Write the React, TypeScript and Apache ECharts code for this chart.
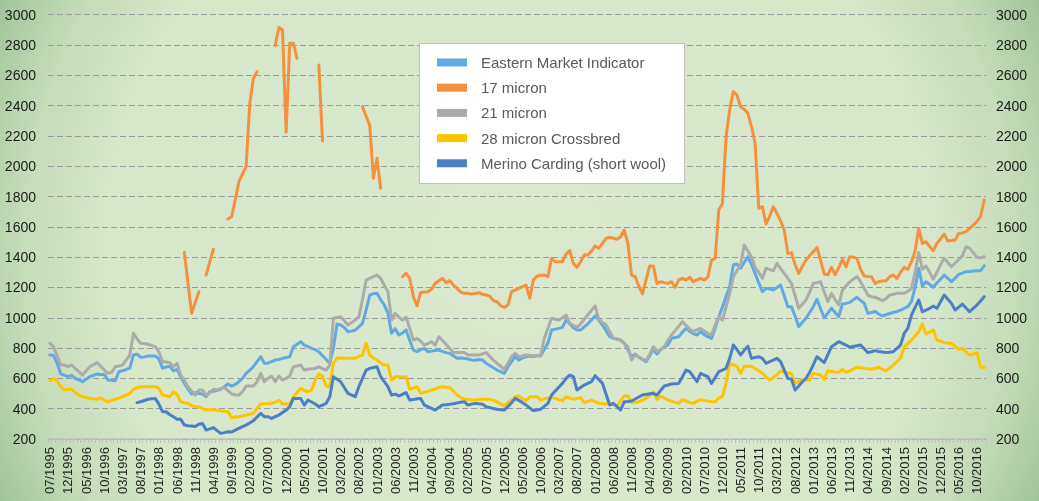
import React, { useEffect, useRef } from "react";
import * as echarts from "echarts";

const _ = null;

// Months from 07/1995 to 12/2016 (258 monthly points)
const START_YEAR = 1995;
const START_MONTH = 7;
const MONTH_COUNT = 258;
const months: string[] = [];
for (let k = 0; k < MONTH_COUNT; k++) {
  const m0 = START_MONTH - 1 + k;
  const y = START_YEAR + Math.floor(m0 / 12);
  const m = (m0 % 12) + 1;
  months.push((m < 10 ? "0" + m : "" + m) + "/" + y);
}

const yTicks = { min: 200, max: 3000, interval: 200 };

const seriesNames = [
  "Eastern Market Indicator",
  "17 micron",
  "21 micron",
  "28 micron Crossbred",
  "Merino Carding (short wool)",
];

const easternMarketIndicator = [
  754, 752, 700, 630, 622, 611, 620, 600, 590, 578, 595, 611,
  620, 629, 625, 625, 590, 588, 585, 644, 650, 660, 668, 754,
  760, 739, 742, 748, 748, 748, 728, 668, 675, 680, 650, 660,
  610, 568, 530, 497, 505, 500, 497, 479, 512, 515, 520, 528,
  545, 563, 548, 560, 578, 600, 633, 655, 677, 710, 743, 700,
  700, 710, 721, 725, 732, 738, 743, 809, 825, 842, 820, 809,
  798, 790, 776, 750, 725, 700, 800, 959, 952, 935, 908, 912,
  919, 940, 963, 1050, 1150, 1160, 1162, 1120, 1084, 1030, 898, 928,
  886, 900, 919, 850, 787, 776, 790, 798, 776, 780, 785, 787,
  778, 770, 765, 750, 733, 735, 733, 728, 722, 720, 725, 722,
  700, 685, 670, 655, 645, 633, 677, 710, 743, 721, 735, 742,
  748, 745, 750, 748, 790, 832, 919, 925, 930, 937, 985, 960,
  935, 919, 919, 940, 960, 985, 1012, 985, 952, 915, 875, 865,
  858, 853, 832, 790, 743, 760, 740, 725, 710, 750, 792, 760,
  790, 805, 820, 864, 870, 875, 905, 931, 910, 895, 886, 908,
  890, 875, 864, 930, 1007, 1070, 1140, 1205, 1348, 1355, 1327, 1365,
  1403, 1350, 1293, 1230, 1172, 1194, 1190, 1183, 1200, 1216, 1145, 1073,
  1073, 1010, 941, 970, 997, 1035, 1073, 1122, 1060, 1000, 1030, 1063,
  1035, 1007, 1091, 1095, 1100, 1118, 1135, 1115, 1096, 1030, 1035, 1041,
  1025, 1012, 1020, 1028, 1035, 1041, 1050, 1062, 1073, 1106, 1200, 1327,
  1210, 1238, 1220, 1201, 1230, 1255, 1282, 1260, 1238, 1262, 1287, 1295,
  1304, 1306, 1308, 1310, 1311, 1342,
];

const micron17 = [
  _, _, _, _, _, _, _, _, _, _, _, _,
  _, _, _, _, _, _, _, _, _, _, _, _,
  _, _, _, _, _, _, _, _, _, _, _, _,
  _, 1432, 1230, 1030, 1100, 1172, _, 1282, 1370, 1452, _, _,
  _, 1652, 1667, 1777, 1898, 1950, 1997, 2416, 2581, 2624, _, _,
  _, _, 2796, 2915, 2900, 2224, 2811, 2811, 2712, _, _, _,
  _, _, 2668, 2167, _, _, _, _, _, _, _, _,
  _, _, 2393, 2330, 2270, 1921, 2053, 1855, _, _, _, _,
  _, 1271, 1293, 1260, 1139, 1079, 1166, 1170, 1172, 1188, 1227, 1245,
  1260, 1232, 1245, 1216, 1194, 1170, 1161, 1161, 1157, 1160, 1166, 1155,
  1150, 1143, 1113, 1106, 1080, 1068, 1084, 1172, 1183, 1194, 1205, 1216,
  1128, 1249, 1276, 1280, 1282, 1271, 1392, 1370, 1370, 1370, 1420, 1443,
  1359, 1333, 1370, 1414, 1414, 1440, 1474, 1458, 1490, 1524, 1531, 1525,
  1518, 1535, 1579, 1491, 1282, 1271, 1210, 1157, 1250, 1342, 1342, 1227,
  1238, 1232, 1227, 1238, 1201, 1250, 1260, 1249, 1267, 1238, 1250, 1260,
  1249, 1267, 1381, 1392, 1711, 1755, 2195, 2371, 2492, 2470, 2393, 2376,
  2349, 2261, 2151, 1722, 1733, 1619, 1671, 1733, 1689, 1640, 1579, 1425,
  1430, 1350, 1293, 1340, 1381, 1410, 1436, 1464, 1380, 1289, 1284, 1333,
  1284, 1330, 1386, 1337, 1403, 1400, 1392, 1320, 1276, 1273, 1271, 1227,
  1238, 1242, 1245, 1271, 1282, 1260, 1300, 1333, 1320, 1370, 1440, 1590,
  1491, 1502, 1470, 1443, 1491, 1520, 1552, 1507, 1510, 1513, 1557, 1560,
  1568, 1590, 1612, 1634, 1667, 1777,
];

const micron21 = [
  832, 810, 750, 688, 688, 677, 688, 665, 644, 622, 650, 677,
  690, 704, 680, 655, 633, 640, 677, 682, 688, 720, 754, 897,
  860, 832, 830, 825, 818, 810, 776, 710, 708, 704, 677, 699,
  622, 585, 545, 515, 490, 523, 523, 486, 505, 528, 523, 532,
  541, 520, 497, 492, 490, 512, 550, 550, 550, 578, 633, 578,
  600, 616, 578, 616, 590, 600, 616, 677, 682, 688, 655, 660,
  664, 666, 677, 665, 655, 688, 997, 1002, 1007, 980, 952, 968,
  985, 1007, 1120, 1249, 1260, 1271, 1282, 1260, 1215, 1172, 985, 1030,
  1005, 985, 1003, 930, 853, 864, 845, 820, 830, 842, 820, 875,
  850, 825, 798, 770, 770, 770, 770, 754, 754, 754, 754, 762,
  770, 745, 721, 700, 680, 660, 700, 743, 765, 743, 748, 754,
  752, 750, 750, 750, 865, 930, 997, 990, 985, 1000, 1018, 963,
  950, 937, 960, 990, 1020, 1050, 1078, 990, 970, 952, 910, 865,
  860, 853, 830, 810, 721, 754, 740, 728, 717, 760, 809, 776,
  790, 809, 850, 886, 915, 945, 974, 950, 925, 908, 920, 930,
  912, 898, 886, 950, 1007, 985, 1070, 1161, 1271, 1310, 1348, 1480,
  1440, 1403, 1330, 1300, 1260, 1327, 1318, 1310, 1359, 1325, 1293, 1260,
  1227, 1145, 1063, 1090, 1118, 1170, 1227, 1232, 1238, 1170, 1106, 1161,
  1120, 1084, 1183, 1210, 1235, 1255, 1271, 1238, 1195, 1150, 1139, 1135,
  1125, 1113, 1125, 1150, 1155, 1161, 1161, 1161, 1175, 1194, 1300, 1430,
  1320, 1342, 1300, 1254, 1300, 1350, 1393, 1365, 1337, 1360, 1385, 1408,
  1469, 1460, 1430, 1399, 1395, 1403,
];

const micron28Crossbred = [
  583, 600, 583, 545, 523, 528, 528, 505, 490, 480, 472, 468,
  465, 462, 472, 455, 446, 455, 462, 470, 479, 490, 501, 528,
  540, 545, 545, 545, 545, 545, 534, 490, 485, 479, 512, 494,
  446, 440, 435, 420, 413, 413, 400, 391, 393, 395, 390, 387,
  383, 380, 341, 345, 347, 352, 358, 363, 369, 400, 431, 433,
  435, 438, 442, 456, 431, 431, 431, 479, 505, 534, 520, 512,
  523, 589, 629, 615, 550, 545, 700, 733, 735, 733, 733, 733,
  733, 745, 754, 832, 754, 735, 721, 700, 688, 688, 589, 611,
  611, 611, 611, 528, 535, 545, 501, 508, 515, 523, 530, 540,
  545, 542, 540, 515, 490, 475, 462, 460, 458, 457, 460, 462,
  462, 462, 455, 446, 430, 418, 440, 457, 479, 484, 468, 453,
  479, 479, 479, 457, 465, 470, 474, 468, 460, 453, 479, 470,
  462, 468, 473, 440, 448, 457, 446, 435, 433, 431, 435, 428,
  418, 450, 484, 484, 440, 443, 446, 457, 468, 490, 512, 462,
  484, 470, 457, 450, 442, 435, 460, 450, 440, 435, 448, 460,
  455, 450, 447, 445, 470, 480, 567, 699, 690, 680, 633, 680,
  680, 680, 665, 650, 633, 610, 590, 605, 625, 650, 640, 635,
  630, 567, 580, 590, 590, 590, 633, 628, 622, 594, 651, 645,
  642, 640, 660, 640, 650, 662, 673, 670, 666, 663, 660, 667,
  673, 660, 650, 668, 688, 710, 733, 809, 830, 853, 880, 908,
  959, 893, 905, 919, 853, 845, 836, 833, 831, 810, 792, 798,
  775, 754, 762, 770, 677, 670,
];

const merinoCarding = [
  _, _, _, _, _, _, _, _, _, _, _, _,
  _, _, _, _, _, _, _, _, _, _, _, _,
  440, 446, 454, 462, 465, 468, 430, 380, 380, 360, 347, 330,
  330, 292, 288, 286, 282, 297, 302, 259, 267, 275, 255, 237,
  242, 248, 246, 258, 270, 281, 292, 306, 321, 345, 369, 347,
  347, 336, 347, 358, 375, 391, 413, 468, 468, 468, 424, 457,
  444, 431, 413, 424, 435, 479, 611, 595, 578, 540, 501, 490,
  479, 545, 600, 655, 666, 672, 677, 611, 578, 545, 490, 496,
  484, 495, 506, 457, 460, 465, 468, 424, 413, 402, 391, 408,
  424, 426, 429, 433, 438, 442, 446, 424, 430, 435, 432, 430,
  413, 407, 401, 396, 393, 391, 413, 440, 468, 455, 440, 424,
  405, 387, 392, 396, 415, 435, 490, 516, 541, 567, 600, 622,
  611, 523, 540, 556, 567, 578, 618, 592, 567, 495, 424, 435,
  413, 391, 446, 448, 451, 464, 477, 490, 494, 498, 501, 490,
  520, 550, 556, 563, 565, 567, 611, 655, 644, 611, 578, 633,
  622, 611, 567, 605, 644, 655, 666, 732, 820, 791, 754, 785,
  813, 732, 738, 743, 732, 699, 710, 721, 732, 710, 655, 600,
  594, 523, 550, 578, 600, 640, 690, 743, 724, 704, 757, 809,
  825, 842, 831, 820, 805, 810, 815, 820, 795, 770, 776, 783,
  778, 774, 770, 773, 776, 798, 820, 897, 930, 1018, 1068, 1117,
  1040, 1051, 1062, 1078, 1062, 1106, 1150, 1122, 1095, 1051, 1070, 1090,
  1065, 1040, 1062, 1084, 1110, 1139,
];

const seriesData = [easternMarketIndicator, micron17, micron21, micron28Crossbred, merinoCarding];
const seriesColors = ["#62a8e2", "#f4913f", "#ababab", "#ffc400", "#4b7fc6"];

const FONT = "'Liberation Sans', Arial, sans-serif";

export default function App() {
  const ref = useRef<HTMLDivElement>(null);
  useEffect(() => {
    if (!ref.current) return;
    const chart = echarts.init(ref.current, undefined, { renderer: "svg" });
    const yAxisBase = {
      type: "value" as const,
      min: yTicks.min,
      max: yTicks.max,
      interval: yTicks.interval,
      axisLine: { show: false },
      axisTick: { show: false },
    };
    const plain = (v: number) => String(v);
    chart.setOption({
      animation: false,
      grid: { left: 48, right: 53, top: 14.7, bottom: 62, containLabel: false },
      legend: {
        orient: "vertical",
        left: 437,
        top: 53.5,
        padding: 0,
        itemGap: 7.2,
        itemWidth: 30,
        itemHeight: 8,
        icon: "rect",
        selectedMode: false,
        z: 10,
        textStyle: {
          fontFamily: FONT,
          fontSize: 15,
          color: "#595959",
          lineHeight: 18,
          padding: [0, 0, 0, 9],
        },
        data: seriesNames,
      },
      graphic: [
        {
          type: "rect",
          z: 8,
          shape: { x: 419.5, y: 43.5, width: 265, height: 140 },
          style: { fill: "#ffffff", stroke: "#bfbfbf", lineWidth: 1 },
        },
      ],
      xAxis: {
        type: "category",
        data: months,
        boundaryGap: true,
        axisLine: { lineStyle: { color: "#bfbfbf", width: 1.5 } },
        axisTick: { show: true, interval: 0, length: 4, lineStyle: { color: "#bfbfbf" } },
        axisLabel: {
          interval: 4,
          rotate: 90,
          fontFamily: FONT,
          fontSize: 13,
          color: "#1f1f1f",
          margin: 8,
        },
        splitLine: { show: false },
      },
      yAxis: [
        {
          ...yAxisBase,
          position: "left",
          axisLabel: { fontFamily: FONT, fontSize: 14, color: "#1a1a1a", margin: 12, formatter: plain },
          splitLine: { show: true, lineStyle: { color: "#9a9a9a", width: 1, type: [6, 3] } },
        },
        {
          ...yAxisBase,
          position: "right",
          axisLabel: { fontFamily: FONT, fontSize: 14, color: "#1a1a1a", margin: 10, formatter: plain },
          splitLine: { show: false },
        },
      ],
      series: seriesNames.map((name, k) => ({
        name,
        type: "line",
        data: seriesData[k],
        symbol: "none",
        showSymbol: false,
        connectNulls: false,
        color: seriesColors[k],
        itemStyle: { color: seriesColors[k] },
        lineStyle: { color: seriesColors[k], width: 3, join: "round", cap: "round" },
        emphasis: { disabled: true },
        z: 2 + k * 0.01,
      })),
    });
    return () => chart.dispose();
  }, []);
  return (
    <div
      style={{
        position: "fixed",
        left: 0,
        top: 0,
        width: 1039,
        height: 501,
        background:
          "radial-gradient(circle farthest-corner at 50% 50%, #dae9ce 0%, #d6e7ca 72%, #c6dcbb 86%, #a2c49b 100%)",
      }}
    >
      <div ref={ref} style={{ width: 1039, height: 501 }} />
    </div>
  );
}
